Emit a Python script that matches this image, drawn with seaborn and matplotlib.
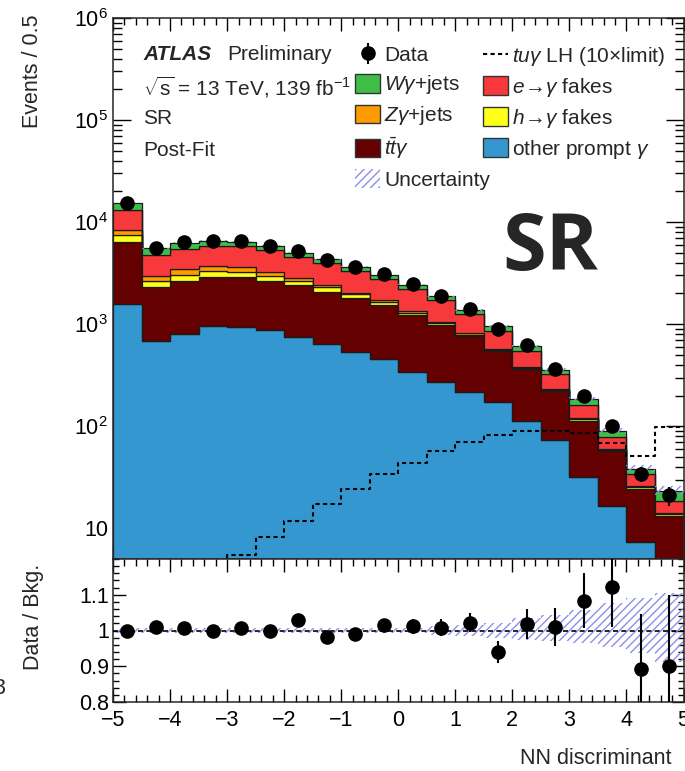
import numpy as np
import pandas as pd
import matplotlib
matplotlib.use("Agg")
import matplotlib.pyplot as plt
from matplotlib.lines import Line2D
from matplotlib.patches import Patch
from matplotlib.ticker import FixedLocator, MultipleLocator, LogLocator, NullFormatter, FuncFormatter
import seaborn as sns

# ---------------------------------------------------------------- data
bin_edges = [-5.0, -4.5, -4.0, -3.5, -3.0, -2.5, -2.0, -1.5, -1.0, -0.5, 0.0,
             0.5, 1.0, 1.5, 2.0, 2.5, 3.0, 3.5, 4.0, 4.5, 5.0]
bin_centers = 0.5 * (np.array(bin_edges[:-1]) + np.array(bin_edges[1:]))

other_prompt = [1585, 690, 802, 952, 935, 884, 750, 645, 531, 455,
                342, 273, 217, 171, 113, 72.5, 31.8, 16.7, 7.3, 3.0]
ttgamma = [4840, 1647, 1873, 1975, 1953, 1791, 1679, 1444, 1254, 1084,
           887, 700, 543, 372, 247, 150, 81, 40.7, 17.0, 10.3]
h_fakes = [1043, 320, 365, 421, 343, 298, 228, 217, 168, 119,
           66, 50, 30, 17, 12, 6, 4, 1.6, 0.8, 0.4]
zgamma = [888, 316, 415, 373, 383, 301, 166, 123, 90, 76,
          59, 35, 27, 17, 9, 4, 3, 1.3, 0.6, 0.3]
e_fakes = [4739, 1791, 1997, 2151, 2219, 2057, 1763, 1526, 1305, 1064,
           850, 649, 435, 287, 170, 92, 42, 18.7, 8.3, 4.7]
wgamma = [2335, 774, 829, 698, 592, 541, 431, 371, 316, 242,
          225, 160, 124, 88, 56, 33, 21, 11, 4.1, 4.6]

data_counts = [15430, 5593, 6331, 6570, 6476, 5872, 5162, 4248, 3624, 3086,
               2458, 1882, 1406, 895, 618, 361, 198, 101, 34, 21]

signal_tuy = [0.3, 0.6, 1.2, 2.5, 5.5, 8.3, 11.9, 17.3, 24.3, 34,
              44, 57, 70, 82, 89, 90, 85, 69, 51, 98]

# relative background uncertainty (up / down)
unc_up = [0.006, 0.006, 0.006, 0.006, 0.006, 0.006, 0.006, 0.006, 0.006, 0.006,
          0.008, 0.012, 0.016, 0.022, 0.035, 0.044, 0.058, 0.077, 0.09, 0.105]
unc_down = [0.006, 0.006, 0.006, 0.006, 0.006, 0.006, 0.006, 0.006, 0.006, 0.006,
            0.008, 0.012, 0.016, 0.02, 0.026, 0.03, 0.036, 0.045, 0.064, 0.087]

labels = {
    "wg": r"$W\gamma$+jets",
    "ef": r"$e\!\rightarrow\!\gamma$ fakes",
    "zg": r"$Z\gamma$+jets",
    "hf": r"$h\!\rightarrow\!\gamma$ fakes",
    "tt": r"$t\bar{t}\gamma$",
    "op": r"other prompt $\gamma$",
}
colors = {"wg": "#3dbf45", "ef": "#f8393b", "zg": "#ff9a00",
          "hf": "#ffff1a", "tt": "#650000", "op": "#3597cf"}
hatch_color = "#8e8ee8"

# first hue level ends on top of the stack
stack_order = ["wg", "ef", "zg", "hf", "tt", "op"]
series = {"wg": wgamma, "ef": e_fakes, "zg": zgamma,
          "hf": h_fakes, "tt": ttgamma, "op": other_prompt}

df = pd.DataFrame({
    "x": np.tile(bin_centers, len(stack_order)),
    "w": np.concatenate([series[k] for k in stack_order]),
    "proc": np.repeat(stack_order, len(bin_centers)),
})

total = np.sum([np.asarray(series[k], float) for k in stack_order], axis=0)
data = np.asarray(data_counts, float)
data_err = np.sqrt(data)
ratio = data / total
ratio_err = data_err / total
u_up = np.asarray(unc_up)
u_dn = np.asarray(unc_down)

# ---------------------------------------------------------------- style
sns.set_theme(style="ticks")
plt.rcParams["font.family"] = ["Liberation Sans", "DejaVu Sans"]
plt.rcParams["mathtext.fontset"] = "custom"
plt.rcParams["mathtext.rm"] = "Liberation Sans"
plt.rcParams["mathtext.it"] = "Liberation Sans:italic"
plt.rcParams["mathtext.bf"] = "Liberation Sans:bold"
plt.rcParams["hatch.linewidth"] = 1.0
plt.rcParams["axes.linewidth"] = 1.1

W, H = 685, 771
fig = plt.figure(figsize=(W / 100, H / 100), dpi=100)


def fx(px):
    return px / W


def fy(py):
    return 1 - py / H


x0, x1 = 113, 683.5
ax = fig.add_axes([fx(x0), fy(559), fx(x1) - fx(x0), fy(18) - fy(559)])
axr = fig.add_axes([fx(x0), fy(702), fx(x1) - fx(x0), fy(559) - fy(702)], sharex=ax)

# ---------------------------------------------------------------- upper panel
sns.histplot(data=df, x="x", weights="w", hue="proc", hue_order=stack_order,
             palette=colors, multiple="stack", bins=bin_edges, element="step",
             fill=True, alpha=1, edgecolor="#1a1a1a", linewidth=0.9,
             legend=False, ax=ax)
ax.set_yscale("log")

ax.stairs(total * (1 + u_up), bin_edges, baseline=total * (1 - u_dn), fill=True,
          facecolor="none", edgecolor=hatch_color, hatch="////", linewidth=0, zorder=4)

sns.histplot(x=bin_centers, weights=signal_tuy, bins=bin_edges, element="step",
             fill=False, color="black", linewidth=1.5, linestyle=(0, (2, 1.6)),
             ax=ax, zorder=5)

data_art = ax.errorbar(bin_centers, data, yerr=data_err, fmt="o", color="black",
                       ms=9.5, elinewidth=1.5, capsize=0, zorder=6)

ax.set_xlim(-5, 5)
ax.set_ylim(5, 1e6)
ax.set_xlabel("")
ax.set_ylabel("")

major_y = [10, 1e2, 1e3, 1e4, 1e5, 1e6]
major_lbl = ["10", r"$10^{2}$", r"$10^{3}$", r"$10^{4}$", r"$10^{5}$", r"$10^{6}$"]
ax.yaxis.set_major_locator(FixedLocator(major_y))
ax.set_yticklabels(major_lbl)
ax.yaxis.set_minor_locator(LogLocator(base=10, subs=np.arange(2, 10), numticks=20))
ax.yaxis.set_minor_formatter(NullFormatter())
ax.xaxis.set_major_locator(MultipleLocator(1))
ax.xaxis.set_minor_locator(MultipleLocator(0.2))
ax.tick_params(axis="x", which="both", labelbottom=False)

for a in (ax, axr):
    a.tick_params(which="both", direction="in", top=True, right=True,
                  labelsize=15.5, colors="black", width=1.0)
    a.tick_params(axis="x", which="major", length=9.5)
    a.tick_params(axis="x", which="minor", length=5)
ax.tick_params(axis="y", which="major", length=13)
ax.tick_params(axis="y", which="minor", length=6.5)
axr.tick_params(axis="y", which="major", length=9)
axr.tick_params(axis="y", which="minor", length=4)

# ---------------------------------------------------------------- ratio panel
axr.stairs(1 + u_up, bin_edges, baseline=1 - u_dn, fill=True, facecolor="none",
           edgecolor=hatch_color, hatch="////", linewidth=0, zorder=2)
axr.axhline(1.0, color="black", linestyle=(0, (3, 2)), linewidth=1.2, zorder=3)
axr.errorbar(bin_centers, ratio, yerr=ratio_err, fmt="o", color="black",
             ms=9.5, elinewidth=1.5, capsize=0, zorder=5)
axr.set_ylim(0.8, 1.2)
axr.set_xlim(-5, 5)
axr.yaxis.set_major_locator(FixedLocator([0.8, 0.9, 1.0, 1.1]))
axr.set_yticklabels(["0.8", "0.9", "1", "1.1"])
axr.yaxis.set_minor_locator(MultipleLocator(0.02))
axr.xaxis.set_major_locator(MultipleLocator(1))
axr.xaxis.set_minor_locator(MultipleLocator(0.2))
axr.xaxis.set_major_formatter(FuncFormatter(lambda v, p: f"{int(round(v))}".replace("-", "\u2212")))
axr.tick_params(axis="x", pad=6)
axr.tick_params(axis="y", pad=3)

# ---------------------------------------------------------------- labels
fig.text(fx(33), fy(14), "Events / 0.5", rotation=90, ha="center", va="top", fontsize=15.5)
fig.text(fx(33), fy(617), "Data / Bkg.", rotation=90, ha="center", va="center", fontsize=15.5)
fig.text(fx(520), fy(758), "NN discriminant", ha="left", va="center", fontsize=15.5)
fig.text(fx(-7), fy(688), "3", ha="left", va="center", fontsize=15.5)

fig.text(fx(143), fy(54), "ATLAS", fontsize=15, fontweight="bold", fontstyle="italic", va="center")
fig.text(fx(227), fy(54), "Preliminary", fontsize=15, va="center")
fig.text(fx(143), fy(87), r"$\sqrt{\mathrm{s}}$ = 13 TeV, 139 fb$^{-1}$", fontsize=15, va="center")
fig.text(fx(143), fy(118), "SR", fontsize=15, va="center")
fig.text(fx(143), fy(150), "Post-Fit", fontsize=15, va="center")

fig.text(fx(502), fy(270), "SR", family=["Open Sans", "DejaVu Sans"], fontweight="bold",
         fontsize=57, ha="left", va="baseline")

# ---------------------------------------------------------------- legend
def box(key):
    return Patch(facecolor=colors[key], edgecolor="#333333", linewidth=1.0)


unc_patch = Patch(facecolor="none", edgecolor=hatch_color, hatch="////", linewidth=0)
sig_line = Line2D([], [], color="black", linewidth=1.5, linestyle=(0, (2, 1.6)))

leg_kw = dict(fontsize=15, frameon=False, handlelength=1.2, handleheight=1.0,
              handletextpad=0.2, labelspacing=0.38, borderpad=0, borderaxespad=0,
              loc="upper left", bbox_transform=fig.transFigure)

leg_a = ax.legend([data_art, box("wg"), box("zg"), box("tt"), unc_patch],
                  ["Data", labels["wg"], labels["zg"], labels["tt"], "Uncertainty"],
                  bbox_to_anchor=(fx(355), fy(45)), **leg_kw)
ax.add_artist(leg_a)
ax.legend([sig_line, box("ef"), box("hf"), box("op")],
          [r"$tu\gamma$ LH (10$\times$limit)", labels["ef"], labels["hf"], labels["op"]],
          bbox_to_anchor=(fx(483), fy(45)), **leg_kw)

fig.savefig("out.png", dpi=100)
